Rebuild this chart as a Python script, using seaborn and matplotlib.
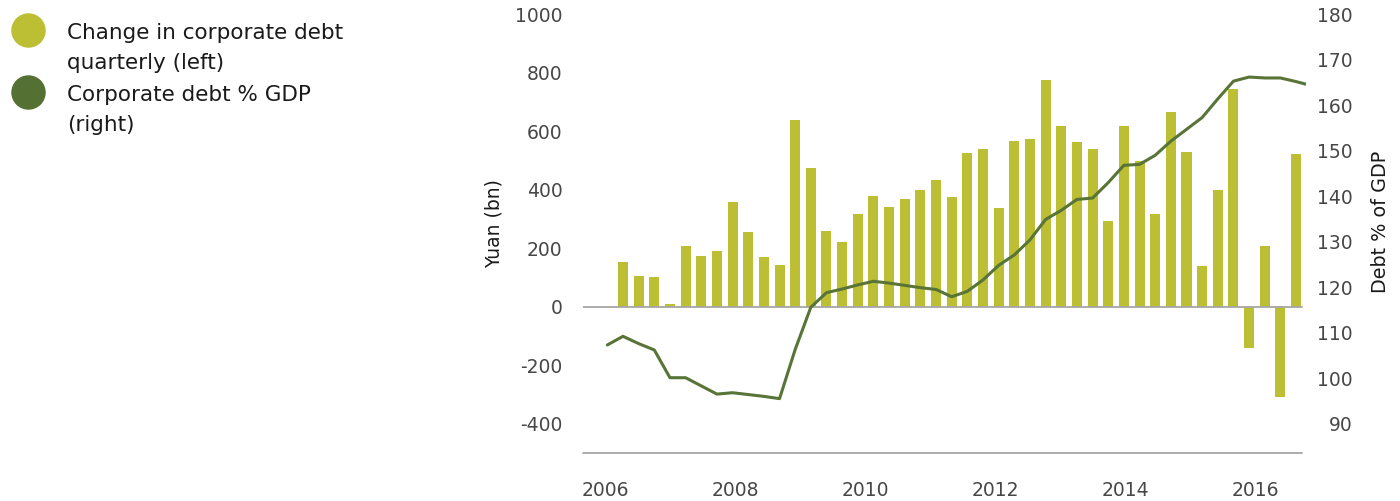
import numpy as np
import matplotlib.pyplot as plt
import matplotlib.lines as mlines
import seaborn as sns

# Quarterly change in corporate debt, Yuan (bn), left axis.
Quarters = [f'{Year}Q{Q}' for Year in range(2006, 2017) for Q in range(1, 5)]
Change_Debt = [153, 105, 102, 9, 208, 173, 190, 358, 255, 170, 143, 638,
               474, 259, 221, 317, 378, 341, 368, 399, 433, 375, 526, 539,
               337, 567, 573, 775, 618, 563, 539, 293, 618, 498, 317, 666,
               528, 139, 399, 744, -140, 208, -308, 522]

# Corporate debt % GDP, right axis (one quarter before and after the bars).
Debt_GDP_Quarters = ['2005Q4'] + Quarters + ['2017Q1']
Debt_GDP = [107.3, 109.2, 107.6, 106.2, 100.1, 100.1, 98.3, 96.5, 96.8, 96.4,
            96.0, 95.5, 106.3, 115.6, 118.8, 119.6, 120.5, 121.3, 120.9, 120.4,
            119.9, 119.5, 117.9, 119.1, 121.6, 124.8, 127.1, 130.4, 134.9, 136.9,
            139.3, 139.6, 143.0, 146.8, 147.0, 149.0, 152.1, 154.7, 157.3, 161.4,
            165.3, 166.2, 166.0, 166.0, 165.2, 164.3]

# Etiquetas de los ejes.
Year_Labels = ['2006', '2008', '2010', '2012', '2014', '2016']
Left_Ticks = [-400, -200, 0, 200, 400, 600, 800, 1000]
Right_Ticks = [90, 100, 110, 120, 130, 140, 150, 160, 170, 180]

Bar_Color = '#BCBE33'
Line_Color = '#587436'
Axis_Color = '#A6A6A6'
Tick_Color = '#474747'
Text_Color = '#1A1A1A'

sns.set_theme(style='white')
plt.rcParams['font.family'] = ['DejaVu Sans']

Figure = plt.figure(figsize=(14, 5.01), dpi=100)
Graphic = Figure.add_axes([0.4166, 0.0960, 0.5161, 0.8755])

# Barras (eje izquierdo), sin borde blanco.
sns.barplot(x=Quarters, y=Change_Debt, order=Quarters, color=Bar_Color,
            saturation=1, width=0.64, errorbar=None, linewidth=0, ax=Graphic, zorder=2)

# Linea (eje derecho), posiciones en unidades de trimestre.
Graphic_2 = Graphic.twinx()
Line_X = np.arange(len(Debt_GDP_Quarters)) - 1
sns.lineplot(x=Line_X, y=Debt_GDP, color=Line_Color, linewidth=2.2, ax=Graphic_2)

# Limites.
Graphic.set_xlim(-2.54, 43.62)
Graphic.set_ylim(-500, 1000)
Graphic_2.set_ylim(83.57, 180)

# Lineas horizontales en 0 y en el borde inferior.
Span = (43.39 + 2.54) / (43.62 + 2.54)
Graphic.axhline(0, xmax=Span, color=Axis_Color, linewidth=1.3, zorder=3)
Graphic.axhline(-500, xmax=Span, color=Axis_Color, linewidth=1.3, zorder=3, clip_on=False)

for Axes in (Graphic, Graphic_2):
    for Spine in Axes.spines.values():
        Spine.set_visible(False)

# Eje X: los años.
Tick_Pos = [-1.15 + (int(Year) - 2006) * 4.155 for Year in Year_Labels]
Graphic.set_xticks(Tick_Pos, Year_Labels)
Graphic.set_xlabel('')
Graphic.tick_params(axis='x', length=0, pad=20.5, labelsize=13.5, labelcolor=Tick_Color)

# Eje Y izquierdo.
Graphic.set_yticks(Left_Ticks, [str(v) for v in Left_Ticks])
Graphic.tick_params(axis='y', length=0, pad=14.8, labelsize=13.5, labelcolor=Tick_Color)
Graphic.set_ylabel('Yuan (bn)', fontsize=13.5, color=Text_Color)
Graphic.yaxis.label.set_va('center')
Graphic.yaxis.set_label_coords(-0.1236, 0.523)

# Eje Y derecho.
Graphic_2.set_yticks(Right_Ticks, [str(v) for v in Right_Ticks])
Graphic_2.tick_params(axis='y', length=0, pad=34, labelsize=13.5, labelcolor=Tick_Color)
for Label in Graphic_2.get_yticklabels():
    Label.set_ha('right')
Graphic_2.set_ylabel('Debt % of GDP', fontsize=13.8, color=Text_Color)
Graphic_2.yaxis.label.set_va('center')
Graphic_2.yaxis.set_label_coords(1.1029, 0.527)
Graphic_2.set_xlabel('')

# Leyenda manual (circulo alineado con la primera linea).
Legend_Items = [('Change in corporate debt\nquarterly (left)', Bar_Color, 30),
                ('Corporate debt % GDP\n(right)', '#557033', 92)]
for Text, Color, Y in Legend_Items:
    Figure.add_artist(mlines.Line2D([28 / 1400], [1 - Y / 501], transform=Figure.transFigure,
                                    marker='o', markersize=23.8, color=Color, linestyle=''))
    Figure.text(66.7 / 1400, 1 - (Y + 18) / 501, Text, fontsize=15.5, color=Text_Color,
                va='center', ha='left', linespacing=1.62)

Figure.savefig('out.png', dpi=100)
